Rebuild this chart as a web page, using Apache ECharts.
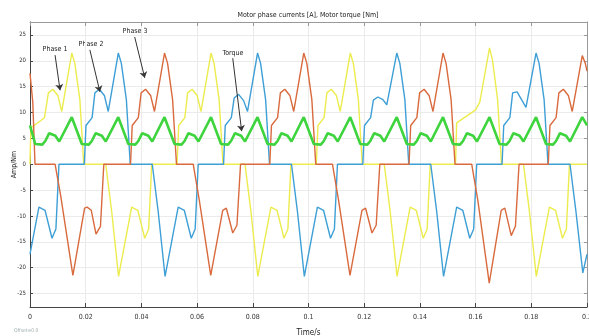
<!DOCTYPE html>
<html>
<head>
<meta charset="utf-8">
<script src="https://cdn.jsdelivr.net/npm/echarts@6/dist/echarts.min.js"></script>
<style>
html, body { margin: 0; padding: 0; background: #fff; }
#chart { width: 589px; height: 336px; }
</style>
</head>
<body>
<div id="chart"></div>
<script>
var myChart = echarts.init(document.getElementById('chart'));

// time in ms, value in A / Nm
var phase1 = [
	[0, 0], [0.3, 7], [5.2, 9], [6.6, 13.8], [8.2, 14.5], [10, 13.3], [11.4, 10.2], [15, 21.5], [16.1, 19.5], [17.9, 12.5], [19.3, 0],
	[27.2, 0], [29.3, -9], [31.8, -21.7], [36.5, -8.3], [37.2, -8], [38.7, -8.9], [41.2, -14.3], [42.6, -12.5], [43.7, 0],
	[52.8, 0], [53.4, 7.5], [55.6, 9], [56.6, 13.8], [58.2, 14.5], [60, 13.3], [61.4, 10.2], [65, 21.5], [66.1, 19.5], [67.9, 12.5], [69.3, 0],
	[77.2, 0], [79.3, -9], [81.8, -21.7], [86.5, -8.3], [87.2, -8], [88.7, -8.9], [91.2, -14.3], [92.6, -12.5], [93.7, 0],
	[102.8, 0], [103.4, 7.5], [105.6, 9], [106.6, 13.8], [108.2, 14.5], [110, 13.3], [111.4, 10.2], [115, 21.5], [116.1, 19.5], [117.9, 12.5], [119.3, 0],
	[127.2, 0], [129.3, -9], [131.8, -21.7], [136.5, -8.3], [137.2, -8], [138.7, -8.9], [141.2, -14.3], [142.6, -12.5], [143.7, 0],
	[152.8, 0], [153.2, 8], [160, 10.5], [161.5, 12], [165, 22.5], [166.1, 20], [167.9, 12.5], [169.3, 0],
	[177.2, 0], [179.3, -9], [181.8, -21.7], [186.5, -8.3], [187.2, -8], [188.7, -8.9], [191.2, -14.3], [192.6, -12.5], [193.7, 0], [200, 0]
];
var phase2 = [
	[0, -17.4], [3.2, -8.3], [3.9, -8], [5.4, -8.9], [7.9, -14.3], [9.3, -12.5], [10.4, 0],
	[19.5, 0], [20.1, 7.5], [22.3, 9], [23.3, 13.8], [24.9, 14.5], [26.7, 13.3], [28.1, 10.2], [31.7, 21.5], [32.8, 19.5], [34.6, 12.5], [36, 0],
	[43.9, 0], [46, -9], [48.5, -21.7], [53.2, -8.3], [53.9, -8], [55.4, -8.9], [57.9, -14.3], [59.3, -12.5], [60.4, 0],
	[69.5, 0], [70.1, 7.5], [72.3, 9], [73.3, 12.8], [74.9, 13.5], [76.7, 12.3], [78.1, 10.2], [81.7, 21.5], [82.8, 19.5], [84.6, 12.5], [86, 0],
	[93.9, 0], [96, -9], [98.5, -21.7], [103.2, -8.3], [103.9, -8], [105.4, -8.9], [107.9, -14.3], [109.3, -12.5], [110.4, 0],
	[119.5, 0], [120.1, 7.5], [122.3, 9], [123.3, 12.4], [124.9, 13], [126.7, 12.5], [128.1, 11.5], [131.7, 21.5], [132.8, 19.5], [134.6, 12.5], [136, 0],
	[143.9, 0], [146, -9], [148.5, -21.7], [153.2, -8.3], [153.9, -8], [155.4, -8.9], [157.9, -14.3], [159.3, -12.5], [160.4, 0],
	[169.5, 0], [170.1, 7.5], [172.3, 9], [173.3, 13.8], [174.9, 14], [176.7, 12.3], [178.1, 11], [181.7, 21.5], [182.8, 19.5], [184.6, 12.5], [186, 0],
	[193.9, 0], [196, -9], [198.5, -21], [200, -17.4]
];
var phase3 = [
	[0, 17.6], [1, 12], [1.8, 0],
	[9, 0], [11, -6], [15.4, -21.5], [19.6, -8.5], [20.5, -8.3], [22, -8.9], [23.7, -13.5], [25.3, -12], [26.5, 0],
	[36.1, 0], [36.7, 7.5], [38.9, 9], [39.9, 13.8], [41.5, 14.5], [43.3, 13.3], [44.7, 10.2], [48.3, 21.5], [49.4, 19.5], [51.2, 12.5], [52.6, 0],
	[58.6, 0], [60.8, -7], [64.9, -21.5], [69.2, -8.9], [70.5, -8.5], [72.8, -13.3], [74.3, -11.8], [75.6, 0],
	[86.1, 0], [86.7, 7.5], [88.9, 9], [89.9, 13.8], [91.5, 14.5], [93.3, 13.3], [94.7, 10.2], [98.3, 21.5], [99.4, 19.5], [101.2, 12.5], [102.6, 0],
	[108.6, 0], [110.8, -7], [114.9, -21.5], [119.2, -8.9], [120.5, -8.5], [122.8, -13.3], [124.3, -11.8], [125.6, 0],
	[136.1, 0], [136.7, 7.5], [138.9, 9], [139.9, 13.8], [141.5, 14.5], [143.3, 13.3], [144.7, 10.2], [148.3, 21.5], [149.4, 19.5], [151.2, 12.5], [152.6, 0],
	[158.6, 0], [160.8, -7], [164.9, -23], [169.2, -8.9], [170.5, -8.5], [172.8, -13.8], [174.3, -12], [175.6, 0],
	[186.1, 0], [186.7, 7.5], [188.9, 9], [189.9, 13.8], [191.5, 14.5], [193.3, 13.3], [194.7, 10.2], [198.3, 21], [199.4, 19.5], [200, 18]
];
var torque = [
	[0, 7.5], [1.9, 3.9], [4.4, 3.8], [5.5, 4.5], [6.9, 6.0], [9.1, 5.5], [10.5, 4.4], [15, 9.1],
	[18.6, 3.9], [21.1, 3.8], [22.2, 4.5], [23.6, 6.0], [25.8, 5.5], [27.2, 4.4], [31.7, 9.1],
	[35.3, 3.9], [37.8, 3.8], [38.9, 4.5], [40.3, 6.0], [42.5, 5.5], [43.9, 4.4], [48.3, 9.1],
	[51.9, 3.9], [54.4, 3.8], [55.5, 4.5], [56.9, 6.0], [59.1, 5.5], [60.5, 4.4], [65, 9.1],
	[68.6, 3.9], [71.1, 3.8], [72.2, 4.5], [73.6, 6.0], [75.8, 5.5], [77.2, 4.4], [81.7, 9.1],
	[85.3, 3.9], [87.8, 3.8], [88.9, 4.5], [90.3, 6.0], [92.5, 5.5], [93.9, 4.4], [98.3, 9.1],
	[101.9, 3.9], [104.4, 3.8], [105.5, 4.5], [106.9, 6.0], [109.1, 5.5], [110.5, 4.4], [115, 9.1],
	[118.6, 3.9], [121.1, 3.8], [122.2, 4.5], [123.6, 6.0], [125.8, 5.5], [127.2, 4.4], [131.7, 9.1],
	[135.3, 3.9], [137.8, 3.8], [138.9, 4.5], [140.3, 6.0], [142.5, 5.5], [143.9, 4.4], [148.3, 9.1],
	[151.9, 3.9], [154.4, 3.8], [155.5, 4.5], [156.9, 6.0], [159.1, 5.5], [160.5, 4.4], [165, 9.1],
	[168.6, 3.9], [171.1, 3.8], [172.2, 4.5], [173.6, 6.0], [175.8, 5.5], [177.2, 4.4], [181.7, 9.1],
	[185.3, 3.9], [187.8, 3.8], [188.9, 4.5], [190.3, 6.0], [192.5, 5.5], [193.9, 4.4], [198.3, 9.1],
	[200, 7.5]
];
var yTicks = [-25, -20, -15, -10, -5, 0, 5, 10, 15, 20, 25];

// annotation arrows: [label, start, end] in [ms, value]
var notes = [
	['Phase 1', [9.0, 21.1], [10.8, 14.3]],
	['Phase 2', [21.5, 22.1], [25.1, 14.0]],
	['Phase 3', [37.6, 24.6], [41.2, 16.7]],
	['Torque', [72.8, 20.5], [76.0, 6.4]]
];

var font = '"Liberation Sans Narrow", "DejaVu Sans Condensed", "Liberation Sans", sans-serif';

var arrowData = notes.map(function (n) {
	return [{ coord: n[1] }, { coord: n[2] }];
});

var lineStyleOf = function (color, width) {
	return { color: color, width: width };
};

option = {
	animation : false,
	backgroundColor : '#fff',
	textStyle : { fontFamily : font },
	grid : { left : 30, right : 2, top : 22, bottom : 29, containLabel : false, outerBoundsMode : 'none' },
	graphic : [
		{ type : 'text', x : 308, y : 15, style : { text : 'Motor phase currents [A], Motor torque [Nm]', font : '7px ' + font, fill : '#222', textAlign : 'center', textVerticalAlign : 'middle' } },
		{ type : 'text', x : 55, y : 49, style : { text : 'Phase 1', font : '7px ' + font, fill : '#222', textAlign : 'center', textVerticalAlign : 'middle' } },
		{ type : 'text', x : 91, y : 44, style : { text : 'Phase 2', font : '7px ' + font, fill : '#222', textAlign : 'center', textVerticalAlign : 'middle' } },
		{ type : 'text', x : 135, y : 31, style : { text : 'Phase 3', font : '7px ' + font, fill : '#222', textAlign : 'center', textVerticalAlign : 'middle' } },
		{ type : 'text', x : 233, y : 53, style : { text : 'Torque', font : '7px ' + font, fill : '#222', textAlign : 'center', textVerticalAlign : 'middle' } },
		{ type : 'text', x : 14, y : 331, style : { text : 'Offset=0.0', font : '5px ' + font, fill : '#9aa', textVerticalAlign : 'middle' } }
	],
	xAxis : [ {
		type : 'value',
		min : 0,
		max : 200,
		interval : 20,
		name : 'Time/s',
		nameLocation : 'middle',
		nameGap : 22,
		nameMoveOverlap : false,
		nameTextStyle : { fontSize : 8, color : '#222', fontFamily : font },
		axisLine : { onZero : false, lineStyle : { color : '#444' } },
		axisTick : { inside : true, length : 4, lineStyle : { color : '#444' } },
		axisLabel : {
			fontSize : 7, color : '#333', margin : 7, fontFamily : font,
			formatter : function (v) { return String(+(v / 1000).toFixed(2)); }
		},
		splitLine : { show : true, lineStyle : { color : '#ebebeb' } }
	}, {
		type : 'value',
		position : 'top',
		min : 0,
		max : 200,
		interval : 20,
		axisLine : { show : true, onZero : false, lineStyle : { color : '#999' } },
		axisTick : { inside : true, length : 4, lineStyle : { color : '#999' } },
		axisLabel : { show : false },
		splitLine : { show : false }
	} ],
	yAxis : [ {
		type : 'value',
		min : -27.6,
		max : 27.5,
		name : 'Amp/Nm',
		nameLocation : 'middle',
		nameGap : 12,
		nameMoveOverlap : false,
		nameTextStyle : { fontSize : 7, color : '#222', fontFamily : font },
		axisLine : { show : true, onZero : false, lineStyle : { color : '#444' } },
		axisTick : { inside : true, length : 3, customValues : yTicks, lineStyle : { color : '#444' } },
		axisLabel : { fontSize : 6, color : '#333', margin : 4, customValues : yTicks, fontFamily : font },
		splitLine : { show : true, lineStyle : { color : '#ebebeb' } }
	}, {
		type : 'value',
		position : 'right',
		min : -27.6,
		max : 27.5,
		axisLine : { show : true, onZero : false, lineStyle : { color : '#999' } },
		axisTick : { show : true, inside : true, length : 3, customValues : yTicks, lineStyle : { color : '#999' } },
		axisLabel : { show : false },
		splitLine : { show : false }
	} ],
	series : [ {
		name : 'Phase 1',
		type : 'line',
		data : phase1,
		showSymbol : false,
		lineStyle : lineStyleOf('#ecec4e', 1.4)
	}, {
		name : 'Phase 2',
		type : 'line',
		data : phase2,
		showSymbol : false,
		lineStyle : lineStyleOf('#3d9fd6', 1.4)
	}, {
		name : 'Phase 3',
		type : 'line',
		data : phase3,
		showSymbol : false,
		lineStyle : lineStyleOf('#d96a3e', 1.4)
	}, {
		name : 'Torque',
		type : 'line',
		data : torque,
		showSymbol : false,
		lineStyle : lineStyleOf('#3ed43e', 2.6),
		markLine : {
			silent : true,
			symbol : [ 'none', 'arrow' ],
			symbolSize : 6,
			label : { show : false },
			lineStyle : { color : '#333', width : 1, type : 'solid' },
			data : arrowData
		}
	} ]
};

myChart.setOption(option);
</script>
</body>
</html>
